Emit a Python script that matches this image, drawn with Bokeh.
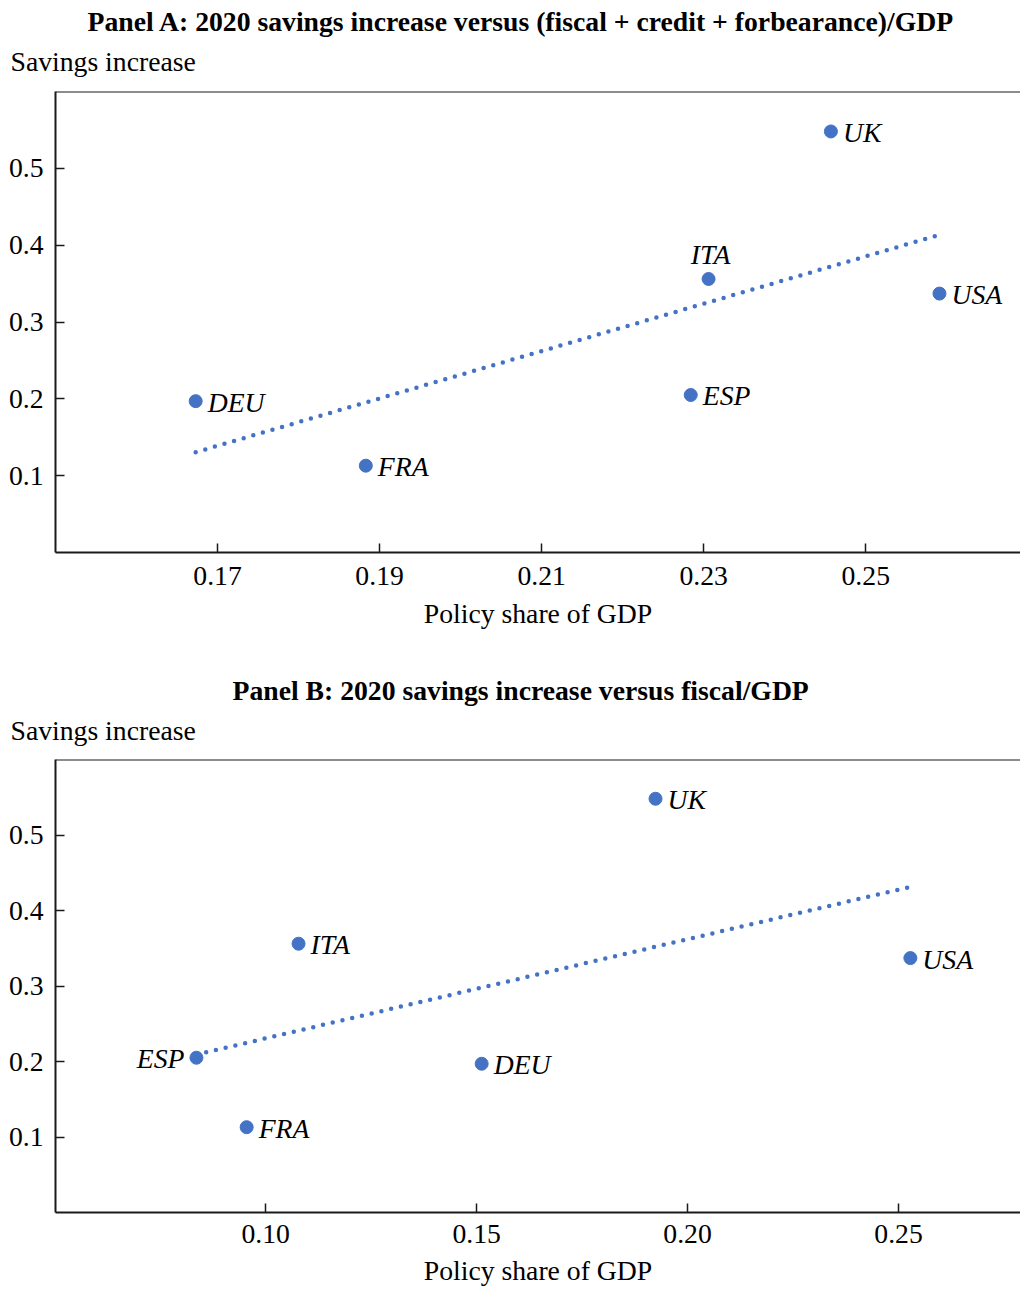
import numpy as np
from bokeh.plotting import figure
from bokeh.models import Title, FixedTicker, Span, ColumnDataSource, Range1d
from bokeh.layouts import column
from bokeh.embed import file_html
from bokeh.resources import INLINE
from bokeh.core.properties import value

# ---------------- data ----------------
countries = ["UK", "ITA", "USA", "ESP", "DEU", "FRA"]
savings_increase = [0.548, 0.356, 0.337, 0.205, 0.197, 0.113]
policy_share_a = [0.2457, 0.2306, 0.2591, 0.2284, 0.1673, 0.1883]   # (fiscal+credit+forbearance)/GDP
policy_share_b = [0.1924, 0.1078, 0.2528, 0.0836, 0.1512, 0.0955]   # fiscal/GDP

x_ticks_a = [0.17, 0.19, 0.21, 0.23, 0.25]
x_tick_labels_a = ["0.17", "0.19", "0.21", "0.23", "0.25"]
x_ticks_b = [0.10, 0.15, 0.20, 0.25]
x_tick_labels_b = ["0.10", "0.15", "0.20", "0.25"]
y_ticks = [0.1, 0.2, 0.3, 0.4, 0.5]
y_tick_labels = ["0.1", "0.2", "0.3", "0.4", "0.5"]

title_a = "Panel A: 2020 savings increase versus (fiscal + credit + forbearance)/GDP"
title_b = "Panel B: 2020 savings increase versus fiscal/GDP"
y_title = "Savings increase"
x_title = "Policy share of GDP"

# label placement (style)
sides_a = {"ITA": "above"}
sides_b = {"ESP": "left"}

SERIF = "Liberation Serif"
BLUE = "#4472C4"
INK = "#1a1a1a"
FS = "27.7px"
LEFT = 55


def make_panel(title, title_offset, xs, xr, xticks, xlabels, sides, height, spacer,
               s_sub, s_title, bottom, tick_standoff, label_standoff):
    p = figure(width=1020, height=height, x_range=Range1d(*xr), y_range=Range1d(0, 0.6),
               output_backend="svg", toolbar_location=None, title=None,
               min_border_left=LEFT, min_border_right=0, min_border_top=0,
               min_border_bottom=bottom)
    p.outline_line_color = None
    p.background_fill_color = "white"
    p.border_fill_color = "white"
    p.grid.visible = False

    # headings stacked above the frame (first added = closest to the frame)
    p.add_layout(Title(text=" ", text_font=SERIF, text_font_size="2px",
                       standoff=spacer), "above")
    p.add_layout(Title(text=y_title, align="left", offset=10 - LEFT, text_font=SERIF,
                       text_font_size=FS, text_font_style="normal", text_color="black",
                       standoff=s_sub), "above")
    p.add_layout(Title(text=title, align="left", offset=title_offset, text_font=SERIF,
                       text_font_size=FS, text_font_style="bold", text_color="black",
                       standoff=s_title), "above")

    for ax in (p.xaxis, p.yaxis):
        ax.axis_line_width = 2
        ax.axis_line_color = INK
        ax.major_tick_line_color = INK
        ax.major_tick_line_width = 1.5
        ax.major_tick_in = 9
        ax.major_tick_out = 0
        ax.minor_tick_line_color = None
        ax.major_label_text_font = SERIF
        ax.major_label_text_font_size = FS
        ax.major_label_text_color = "black"

    p.xaxis.ticker = FixedTicker(ticks=xticks)
    p.xaxis.major_label_overrides = {t: l for t, l in zip(xticks, xlabels)}
    p.xaxis.major_label_standoff = tick_standoff
    p.xaxis.axis_label = x_title
    p.xaxis.axis_label_text_font = SERIF
    p.xaxis.axis_label_text_font_size = FS
    p.xaxis.axis_label_text_font_style = "normal"
    p.xaxis.axis_label_text_color = "black"
    p.xaxis.axis_label_standoff = label_standoff

    p.yaxis.ticker = FixedTicker(ticks=y_ticks)
    p.yaxis.major_label_overrides = {t: l for t, l in zip(y_ticks, y_tick_labels)}
    p.yaxis.major_label_standoff = 12

    p.add_layout(Span(location=0.6, dimension="width", line_color=INK, line_width=2))

    # trend line (OLS fit of the data)
    slope, intercept = np.polyfit(xs, savings_increase, 1)
    x0, x1 = min(xs), max(xs)
    p.line([x0, x1], [slope * x0 + intercept, slope * x1 + intercept],
           line_color=BLUE, line_width=4.5, line_dash="0 10", line_cap="round")

    p.scatter(xs, savings_increase, size=13, color=BLUE, line_color=BLUE)

    place = {"right": dict(x_offset=12, y_offset=1, text_align="left"),
             "above": dict(x_offset=2, y_offset=-24, text_align="center"),
             "left": dict(x_offset=-12, y_offset=1, text_align="right")}
    for side, kw in place.items():
        idx = [i for i, c in enumerate(countries) if sides.get(c, "right") == side]
        if not idx:
            continue
        src = ColumnDataSource(dict(x=[xs[i] for i in idx],
                                    y=[savings_increase[i] for i in idx],
                                    t=[countries[i] for i in idx]))
        p.text("x", "y", text="t", source=src, text_font=value(SERIF),
               text_font_size=FS, text_font_style="italic", text_color="black",
               text_baseline="middle", **kw)
    return p


pa = make_panel(title_a, 32, policy_share_a, (0.15, 0.2691), x_ticks_a, x_tick_labels_a,
                sides_a, 667, 7, 7, 7, 115, 14, 10)
pb = make_panel(title_b, 177, policy_share_b, (0.0502, 0.2789), x_ticks_b, x_tick_labels_b,
                sides_b, 622, 8, 3, 11, 77, 12, 9)

layout = column(pa, pb, spacing=0)
open("out.html", "w").write(file_html(layout, INLINE))
